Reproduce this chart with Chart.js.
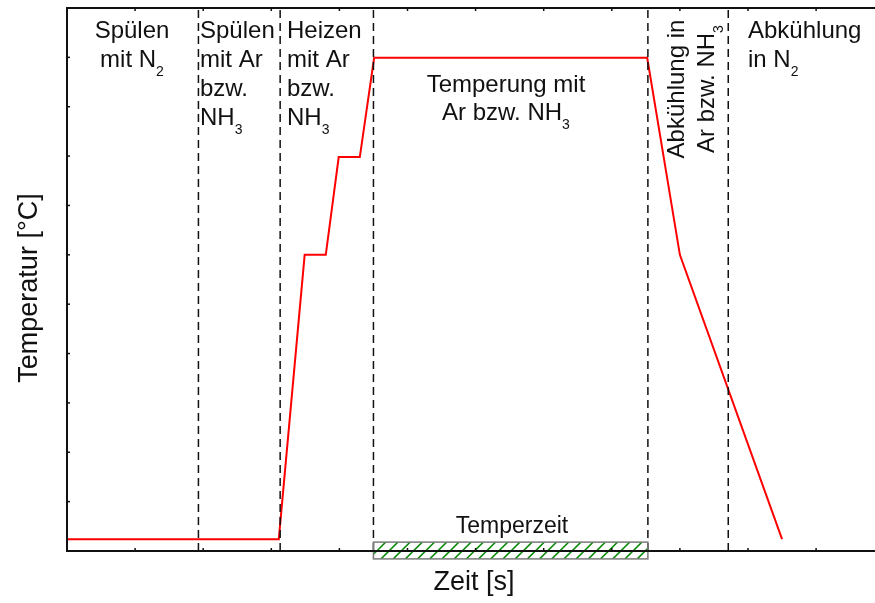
<!DOCTYPE html>
<html>
<head>
<meta charset="utf-8">
<script src="https://cdn.jsdelivr.net/npm/chart.js@4.4.1/dist/chart.umd.min.js"></script>
<style>
  html, body { margin: 0; padding: 0; background: #fff; overflow: hidden; }
  #wrap { width: 875px; height: 603px; }
</style>
</head>
<body>
<div id="wrap"><canvas id="chart" width="875" height="603"></canvas></div>
<script>
// Temperaturprofil (Achsen ohne Zahlenwerte, Einheiten = Teilstriche)
const zeitWerte = [0, 3.11, 3.49, 3.80, 3.99, 4.30, 4.51, 8.52, 9.00, 10.50];
const tempWerte = [0.24, 0.24, 6.0, 6.0, 7.98, 7.98, 9.99, 9.99, 6.0, 0.24];

// Phasengrenzen (gestrichelt)
const phasenGrenzen = [1.93, 3.13, 4.50, 8.53, 9.71];

// Temperzeit-Balken
const temperzeitX = [4.50, 8.53];
const temperzeitY = [-0.16, 0.18];

const xTicks = [1, 2, 3, 4, 5, 6, 7, 8, 9, 10, 11];
const yTicks = [1, 2, 3, 4, 5, 6, 7, 8, 9, 10];

const xTitel = 'Zeit [s]';
const yTitel = 'Temperatur [°C]';

// Beschriftungen der Phasen ("_n" = tiefgestellt)
const phasenTexte = [
  { lines: ['Spülen', 'mit N_2'], x: 132, y: 38, align: 'center' },
  { lines: ['Spülen', 'mit Ar', 'bzw.', 'NH_3'], x: 200, y: 38, align: 'left' },
  { lines: ['Heizen', 'mit Ar', 'bzw.', 'NH_3'], x: 287, y: 38, align: 'left' },
  { lines: ['Temperung mit', 'Ar bzw. NH_3'], x: 506, y: 92, align: 'center', step: 28 },
  { lines: ['Abkühlung in', 'Ar bzw. NH_3'], x: 684, y: 89, align: 'center', rotate: true, step: 30 },
  { lines: ['Abkühlung', 'in N_2'], x: 748, y: 38, align: 'left' },
  { lines: ['Temperzeit'], x: 512, y: 533, align: 'center', size: 23 }
];

const FONT = '"Liberation Sans", Arial, sans-serif';
const INK = '#111';

function zerlegen(txt) {
  // 'mit N_2' -> [{t:'mit N'},{t:'2',sub:true}]
  const teile = txt.split(/_(\d)/);
  const out = [];
  teile.forEach((t, i) => { if (t) out.push({ t: t, sub: i % 2 === 1 }); });
  return out;
}

function richText(ctx, txt, x, y, align, size) {
  const segs = zerlegen(txt);
  const subSize = Math.round(size * 0.6);
  let breite = 0;
  segs.forEach(s => {
    ctx.font = (s.sub ? subSize : size) + 'px ' + FONT;
    s.w = ctx.measureText(s.t).width;
    breite += s.w;
  });
  let cx = x;
  if (align === 'center') cx = x - breite / 2;
  else if (align === 'right') cx = x - breite;
  ctx.textAlign = 'left';
  ctx.textBaseline = 'alphabetic';
  segs.forEach(s => {
    ctx.font = (s.sub ? subSize : size) + 'px ' + FONT;
    ctx.fillText(s.t, cx, s.sub ? y + size * 0.38 : y);
    cx += s.w;
  });
}

const rahmenPlugin = {
  id: 'rahmen',
  afterDraw(chart) {
    const ctx = chart.ctx;
    const xs = chart.scales.x, ys = chart.scales.y;
    const a = chart.chartArea;

    // Temperzeit: schraffiertes Rechteck
    const x0 = xs.getPixelForValue(temperzeitX[0]);
    const x1 = xs.getPixelForValue(temperzeitX[1]);
    const yTop = ys.getPixelForValue(temperzeitY[1]);
    const yBot = ys.getPixelForValue(temperzeitY[0]);
    ctx.save();
    ctx.beginPath();
    ctx.rect(x0, yTop, x1 - x0, yBot - yTop);
    ctx.clip();
    ctx.strokeStyle = '#0a8a0a';
    ctx.lineWidth = 1.5;
    const h = yBot - yTop;
    for (let px = x0 - h; px < x1 + h; px += 12.2) {
      ctx.beginPath();
      ctx.moveTo(px, yBot);
      ctx.lineTo(px + h, yTop);
      ctx.stroke();
    }
    ctx.restore();
    ctx.save();
    ctx.strokeStyle = '#7a7a7a';
    ctx.lineWidth = 1.5;
    ctx.strokeRect(x0, yTop, x1 - x0, yBot - yTop);
    ctx.restore();

    // Achsen
    ctx.save();
    ctx.strokeStyle = INK;
    ctx.lineWidth = 2;
    ctx.beginPath();
    ctx.moveTo(a.right + 2, a.top);
    ctx.lineTo(a.left, a.top);
    ctx.lineTo(a.left, a.bottom);
    ctx.lineTo(a.right + 2, a.bottom);
    ctx.stroke();

    ctx.lineWidth = 1.5;
    xTicks.forEach(v => {
      const px = xs.getPixelForValue(v);
      ctx.beginPath();
      ctx.moveTo(px, a.bottom); ctx.lineTo(px, a.bottom - 3);
      ctx.moveTo(px, a.top); ctx.lineTo(px, a.top + 3);
      ctx.stroke();
    });
    yTicks.forEach(v => {
      const py = ys.getPixelForValue(v);
      ctx.beginPath();
      ctx.moveTo(a.left, py); ctx.lineTo(a.left + 3, py);
      ctx.stroke();
    });
    ctx.restore();

    // Texte
    ctx.save();
    ctx.fillStyle = INK;
    phasenTexte.forEach(l => {
      const size = l.size || 24;
      const step = l.step || 29;
      if (l.rotate) {
        ctx.save();
        ctx.translate(l.x, l.y);
        ctx.rotate(-Math.PI / 2);
        l.lines.forEach((z, i) => richText(ctx, z, 0, i * step, 'center', size));
        ctx.restore();
      } else {
        l.lines.forEach((z, i) => richText(ctx, z, l.x, l.y + i * step, l.align, size));
      }
    });

    ctx.font = '27px ' + FONT;
    ctx.textAlign = 'center';
    ctx.textBaseline = 'alphabetic';
    ctx.fillText(xTitel, (a.left + a.right) / 2 + 3, 590);

    ctx.save();
    ctx.translate(37, 288);
    ctx.rotate(-Math.PI / 2);
    ctx.fillText(yTitel, 0, 0);
    ctx.restore();
    ctx.restore();
  }
};

const datensaetze = phasenGrenzen.map(g => ({
  data: [{ x: g, y: 0 }, { x: g, y: 11 }],
  borderColor: INK,
  borderWidth: 1.5,
  borderDash: [8, 5],
  pointRadius: 0
}));

datensaetze.push({
  data: zeitWerte.map((x, i) => ({ x: x, y: tempWerte[i] })),
  borderColor: '#ff0000',
  borderWidth: 2,
  pointRadius: 0,
  tension: 0
});

new Chart(document.getElementById('chart'), {
  type: 'line',
  data: { datasets: datensaetze },
  options: {
    responsive: false,
    animation: false,
    layout: { padding: { left: 67, top: 8, right: 0, bottom: 52 } },
    plugins: { legend: { display: false }, tooltip: { enabled: false } },
    scales: {
      x: { type: 'linear', min: 0, max: 11.865, display: false },
      y: { type: 'linear', min: 0, max: 11, display: false }
    }
  },
  plugins: [rahmenPlugin]
});
</script>
</body>
</html>
